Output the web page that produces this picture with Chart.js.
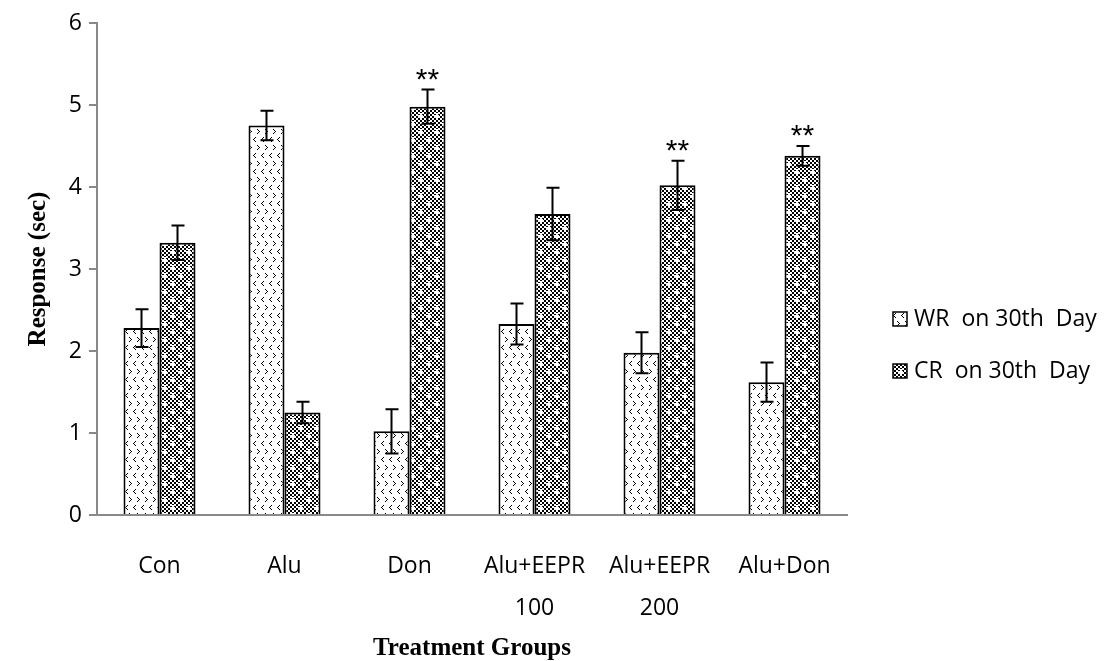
<!DOCTYPE html>
<html>
<head>
<meta charset="utf-8">
<script src="https://cdn.jsdelivr.net/npm/chart.js@4/dist/chart.umd.min.js"></script>
<style>
html,body{margin:0;padding:0;background:#fff}
#wrap{width:1115px;height:661px}
</style>
</head>
<body>
<div id="wrap"><canvas id="chart" width="1115" height="661"></canvas></div>
<script>
/* ================================
   DATA
================================ */

const groups = [["Con"],["Alu"],["Don"],["Alu+EEPR","100"],["Alu+EEPR","200"],["Alu+Don"]]

const wrValues = [2.28,4.75,1.02,2.33,1.98,1.62]
const wrErrors = [0.23,0.18,0.27,0.25,0.25,0.24]

const crValues = [3.32,1.25,4.98,3.67,4.02,4.38]
const crErrors = [0.21,0.13,0.21,0.32,0.30,0.12]
const crSig = ["","","**","","**","**"]

const yTicks = [0,1,2,3,4,5,6]

/* ================================
   FILL PATTERNS
================================ */

function chevron(g,x,y,right){
// 3px wide, 5px tall arrow head
const pts = right
? [[0,0],[1,1],[2,2],[1,3],[0,4]]
: [[2,0],[1,1],[0,2],[1,3],[2,4]]
pts.forEach(p=>g.fillRect(x+p[0],y+p[1],1,1))
}

function dotPattern(){
const c = document.createElement("canvas")
c.width = 16
c.height = 16
const g = c.getContext("2d")
g.fillStyle = "#fff"
g.fillRect(0,0,16,16)
g.fillStyle = "#000"
chevron(g,1,1,true)
chevron(g,9,1,true)
chevron(g,5,9,false)
chevron(g,13,9,false)
return g.createPattern(c,"repeat")
}

function checkPattern(){
const c = document.createElement("canvas")
c.width = 16
c.height = 16
const g = c.getContext("2d")
g.fillStyle = "#fff"
g.fillRect(0,0,16,16)
g.fillStyle = "#000"
for(let y=0;y<16;y+=2){
for(let x=0;x<16;x+=2){
if(((x+y)/2)%2===0) g.fillRect(x,y,2,2)
}
}
// small white crosses
g.fillStyle = "#fff"
;[[4,3],[12,11]].forEach(p=>{
g.fillRect(p[0]-2,p[1],5,2)
g.fillRect(p[0],p[1]-2,2,5)
})
return g.createPattern(c,"repeat")
}

const wrFill = dotPattern()
const crFill = checkPattern()

/* ================================
   ERROR BARS + LEGEND
================================ */

const errorBars = {
id:"errorBars",
afterDatasetsDraw(chart){
const ctx = chart.ctx
const y = chart.scales.y
ctx.save()
ctx.strokeStyle = "#000"
ctx.lineWidth = 2
chart.data.datasets.forEach((ds,di)=>{
const meta = chart.getDatasetMeta(di)
meta.data.forEach((bar,i)=>{
const v = ds.data[i]
const e = ds.errors[i]
const top = y.getPixelForValue(v+e)
const bot = y.getPixelForValue(v-e)
ctx.beginPath()
ctx.moveTo(bar.x,top)
ctx.lineTo(bar.x,bot)
ctx.moveTo(bar.x-6,top)
ctx.lineTo(bar.x+7,top)
ctx.moveTo(bar.x-6,bot)
ctx.lineTo(bar.x+7,bot)
ctx.stroke()
if(ds.sig && ds.sig[i]){
ctx.fillStyle = "#000"
ctx.font = "30px 'Liberation Sans'"
ctx.textAlign = "center"
ctx.textBaseline = "middle"
ctx.fillText(ds.sig[i],bar.x,top-9)
}
})
})
ctx.restore()
}
}

const sideLegend = {
id:"sideLegend",
afterDraw(chart){
const ctx = chart.ctx
ctx.save()
chart.data.datasets.forEach((ds,i)=>{
const cy = 319 + i*52
ctx.fillStyle = ds.backgroundColor
ctx.fillRect(893,cy-7,14,14)
ctx.strokeStyle = "#000"
ctx.lineWidth = 1.5
ctx.strokeRect(893,cy-7,14,14)
ctx.fillStyle = "#000"
ctx.font = "23px 'Open Sans'"
ctx.textAlign = "left"
ctx.textBaseline = "middle"
ctx.fillText(ds.label,914,cy)
})
ctx.restore()
}
}

/* ================================
   CHART
================================ */

new Chart(
document.getElementById("chart"),
{
type:"bar",
data:{
labels:groups,
datasets:[{
label:"WR  on 30th  Day",
data:wrValues,
errors:wrErrors,
backgroundColor:wrFill,
borderColor:"#000",
borderWidth:2
},{
label:"CR  on 30th  Day",
data:crValues,
errors:crErrors,
sig:crSig,
backgroundColor:crFill,
borderColor:"#000",
borderWidth:2
}]
},
plugins:[errorBars,sideLegend],
options:{
responsive:false,
animation:false,
layout:{padding:{left:0,top:23,right:268,bottom:0}},
datasets:{bar:{barPercentage:1,categoryPercentage:0.576}},
plugins:{
legend:{display:false},
tooltip:{enabled:false}
},
scales:{
x:{
grid:{display:false},
border:{color:"#898989",width:2},
ticks:{color:"#000",padding:22,font:{family:"Open Sans",size:23,lineHeight:1.85},maxRotation:0,autoSkip:false},
title:{display:true,text:"Treatment Groups",color:"#000",padding:{top:0,bottom:0},font:{family:"Liberation Serif",size:25,weight:"bold",lineHeight:1}},
afterFit(s){s.height=146}
},
y:{
min:0,
max:6,
afterBuildTicks(s){s.ticks = yTicks.map(v=>({value:v}))},
grid:{drawOnChartArea:false,drawTicks:true,tickLength:8,color:"#898989",lineWidth:2},
border:{color:"#898989",width:2},
ticks:{color:"#000",padding:7,font:{family:"Open Sans",size:23}},
title:{display:true,text:"Response (sec)",color:"#000",padding:{top:24,bottom:0},font:{family:"Liberation Serif",size:25,weight:"bold"}},
afterFit(s){s.width=97}
}
}
}
})
</script>
</body>
</html>
